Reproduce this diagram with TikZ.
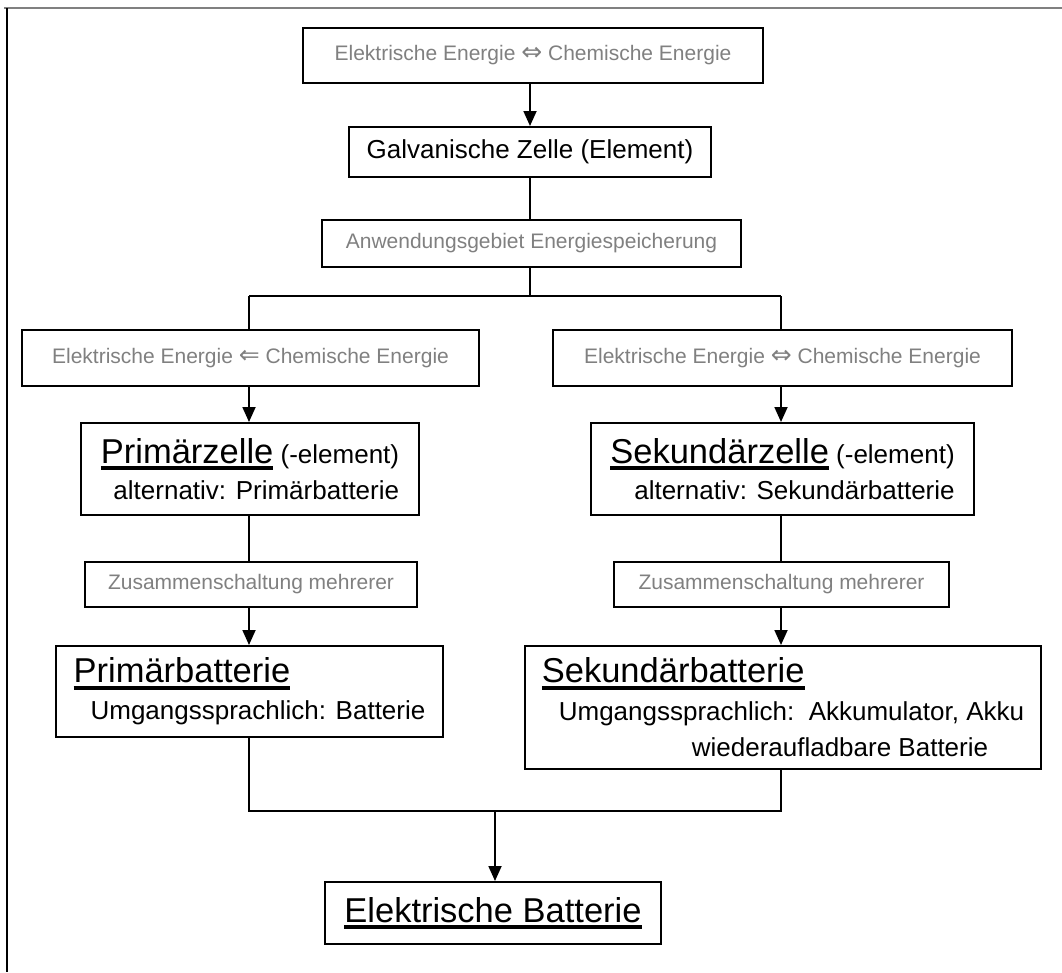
\documentclass[tikz,border=0pt]{standalone}
\usepackage{fontspec}
\setmainfont{Liberation Sans}
\newfontfamily\pfeilschrift{DejaVu Sans}
\usetikzlibrary{arrows.meta}
\newcommand{\unterstrich}[1]{\setbox0\hbox{#1}\rlap{\raisebox{-7pt}{\rule{\wd0}{4pt}}}\box0}
\newcommand{\titel}[1]{{\fontsize{34.5}{38}\selectfont\unterstrich{#1}}}
\newcommand{\doppel}[1]{{\pfeilschrift\fontsize{25}{24}\selectfont #1}}

\begin{document}
\begin{tikzpicture}[x=1pt,y=-1pt,
 kasten/.style={draw,line width=2pt,inner sep=0pt},
 grau/.style={text=gray,font=\fontsize{21}{24}\selectfont},
 schwarz/.style={font=\fontsize{26}{35}\selectfont},
 pfeil/.style={line width=1.8pt,-{Triangle[width=13pt,length=15pt]}},
 linie/.style={line width=1.8pt}]

\useasboundingbox (0,0) rectangle (1062,972);
\draw[gray,line width=2.5pt] (4,8)--(1062,8);
\draw[line width=2pt] (7,8)--(7,972);

\node[kasten,grau,minimum width=460,minimum height=55] (quelle) at (533,55.5) {Elektrische Energie \doppel{⇔} Chemische Energie};
\node[kasten,schwarz,minimum width=362,minimum height=50] (galv) at (530,152) {Galvanische Zelle (Element)};
\node[kasten,grau,minimum width=419,minimum height=47] (anw) at (531.5,243.5) {Anwendungsgebiet Energiespeicherung};
\node[kasten,grau,minimum width=457,minimum height=56] (entl) at (250.5,358) {Elektrische Energie \doppel{⇐} Chemische Energie};
\node[kasten,grau,minimum width=459,minimum height=56] (lade) at (782.5,358) {Elektrische Energie \doppel{⇔} Chemische Energie};
\node[kasten,schwarz,align=right,minimum width=338,minimum height=92] (primz) at (250,469) {\titel{Primärzelle} (-element)\\[1pt]alternativ: Primärbatterie};
\node[kasten,schwarz,align=right,minimum width=383,minimum height=92] (sekz) at (782.5,469) {\titel{Sekundärzelle} (-element)\\[1pt]alternativ: Sekundärbatterie};
\node[kasten,grau,minimum width=332,minimum height=45] (zusl) at (251,584.5) {Zusammenschaltung mehrerer};
\node[kasten,grau,minimum width=335,minimum height=45] (zusr) at (781.5,584.5) {Zusammenschaltung mehrerer};
\node[kasten,schwarz,align=left,minimum width=387,minimum height=91] (primb) at (249.5,691.5) {\titel{Primärbatterie}\\[2pt]\hspace*{17pt}Umgangssprachlich: Batterie};
\node[kasten,schwarz,align=left,minimum width=516,minimum height=123] (sekb) at (783,707.5) {\titel{Sekundärbatterie}\\[3pt]\hspace*{17pt}Umgangssprachlich:~~Akkumulator, Akku\\[1pt]\hspace*{150pt}wiederaufladbare Batterie};
\node[kasten,schwarz,minimum width=336,minimum height=62] (batt) at (493,913) {\titel{Elektrische Batterie}};

\coordinate (teil) at (530,296);
\coordinate (zus) at (495,811);

\draw[pfeil] (galv |- quelle.south) -- (galv);
\draw[linie] (galv) -- (galv |- anw.north);
\draw[linie] (teil |- anw.south) -- (teil);
\draw[linie] (249,296) coordinate (tl) -- (781,296) coordinate (tr);
\draw[linie] (tl) -- (tl |- entl.north);
\draw[linie] (tr) -- (tr |- lade.north);
\draw[pfeil] (tl |- entl.south) -- (tl |- primz.north);
\draw[pfeil] (tr |- lade.south) -- (tr |- sekz.north);
\draw[linie] (tl |- primz.south) -- (tl |- zusl.north);
\draw[linie] (tr |- sekz.south) -- (tr |- zusr.north);
\draw[pfeil] (tl |- zusl.south) -- (tl |- primb.north);
\draw[pfeil] (tr |- zusr.south) -- (tr |- sekb.north);
\draw[linie] (tl |- primb.south) |- (zus) -| (tr |- sekb.south);
\draw[pfeil] (zus) -- (zus |- batt.north);

\end{tikzpicture}
\end{document}
